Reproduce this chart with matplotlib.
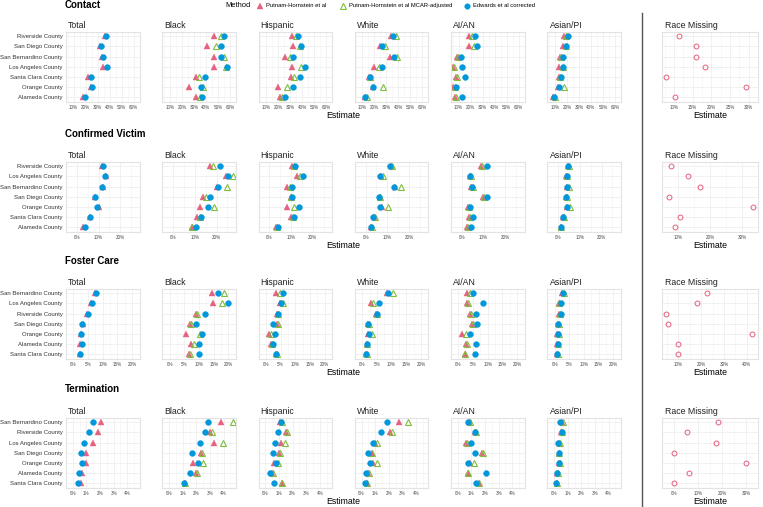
import matplotlib
matplotlib.use("Agg")
import matplotlib.pyplot as plt
from matplotlib.lines import Line2D
import numpy as np

plt.rcParams['font.family'] = ['Liberation Sans', 'DejaVu Sans']

# ---------------- data (percent) ----------------
races = ['Total', 'Black', 'Hispanic', 'White', 'AI/AN', 'Asian/PI']

contact_counties = ['Riverside County', 'San Diego County', 'San Bernardino County', 'Los Angeles County',
                    'Santa Clara County', 'Orange County', 'Alameda County']
contact_ph = {
    'Total': [35.8, 32.0, 33.3, 34.8, 22.2, 24.9, 17.8],
    'Black': [46.6, 40.9, 46.4, 46.4, 31.7, 26.2, 31.7],
    'Hispanic': [31.5, 32.3, 25.7, 32.0, 30.7, 19.7, 21.8],
    'White': [33.6, 24.4, 33.0, 19.9, 15.2, 19.0, 11.8],
    'AI/AN': [18.6, 18.9, 8.4, 5.3, 7.9, 5.3, 6.9],
    'Asian/PI': [17.8, 16.3, 13.9, 13.6, 13.6, 12.5, 8.7],
}
contact_mcar = {
    'Black': [52.4, 48.5, 55.3, 56.6, 34.1, 37.5, 34.9],
    'Hispanic': [34.6, 38.3, 30.2, 39.1, 33.6, 27.5, 23.6],
    'White': [38.3, 29.1, 39.1, 23.9, 16.0, 26.8, 13.4],
    'AI/AN': [21.0, 23.1, 9.5, 6.3, 9.0, 6.6, 7.9],
    'Asian/PI': [19.1, 19.6, 15.2, 17.0, 14.4, 17.6, 9.7],
}
contact_edw = {
    'Total': [36.8, 33.0, 34.8, 38.1, 24.9, 25.4, 19.4],
    'Black': [55.3, 52.7, 52.9, 57.9, 39.3, 36.2, 36.4],
    'Hispanic': [36.7, 38.8, 32.8, 42.7, 38.3, 32.8, 25.4],
    'White': [35.9, 26.2, 36.7, 26.0, 16.3, 19.2, 12.1],
    'AI/AN': [23.6, 25.7, 12.1, 12.9, 15.0, 7.4, 12.6],
    'Asian/PI': [20.7, 19.1, 16.5, 16.5, 14.7, 13.1, 9.2],
}
contact_missing = [11.4, 15.8, 16.0, 18.4, 7.8, 29.2, 10.2]

victim_counties = ['Riverside County', 'Los Angeles County', 'San Bernardino County', 'San Diego County',
                   'Orange County', 'Santa Clara County', 'Alameda County']
victim_ph = {
    'Total': [11.6, 13.4, 12.2, 8.4, 10.1, 5.9, 2.9],
    'Black': [17.1, 24.3, 20.3, 13.9, 12.6, 10.9, 8.6],
    'Hispanic': [10.5, 12.8, 8.0, 9.9, 8.0, 10.0, 3.3],
    'White': [11.6, 7.1, 13.7, 6.4, 7.4, 3.8, 2.6],
    'AI/AN': [8.9, 3.6, 4.4, 9.8, 2.7, 3.4, 2.4],
    'Asian/PI': [4.5, 3.6, 4.0, 3.7, 4.0, 2.1, 1.2],
}
victim_mcar = {
    'Black': [18.6, 27.8, 24.9, 15.0, 18.9, 12.2, 8.9],
    'Hispanic': [11.2, 14.3, 9.6, 10.1, 11.6, 10.8, 3.7],
    'White': [12.2, 7.9, 16.2, 6.7, 10.3, 4.2, 2.8],
    'AI/AN': [9.3, 4.0, 5.2, 10.2, 3.5, 3.8, 2.9],
    'Asian/PI': [4.8, 4.3, 4.8, 3.9, 5.6, 2.5, 1.4],
}
victim_edw = {
    'Total': [12.1, 13.0, 11.4, 8.4, 9.5, 5.9, 3.6],
    'Black': [21.7, 25.4, 20.5, 17.1, 15.9, 12.8, 10.4],
    'Hispanic': [12.0, 15.3, 10.3, 10.4, 13.9, 11.4, 4.2],
    'White': [11.4, 6.8, 13.0, 6.3, 6.7, 3.6, 2.4],
    'AI/AN': [11.5, 3.8, 4.7, 11.6, 3.8, 5.2, 4.2],
    'Asian/PI': [4.7, 3.9, 3.9, 3.8, 3.9, 2.2, 1.3],
}
victim_missing = [7.8, 13.1, 16.8, 7.3, 33.4, 10.5, 9.2]

foster_counties = ['San Bernardino County', 'Los Angeles County', 'Riverside County', 'San Diego County',
                   'Orange County', 'Alameda County', 'Santa Clara County']
foster_ph = {
    'Total': [7.4, 6.1, 4.8, 3.2, 2.5, 2.4, 2.1],
    'Black': [14.5, 14.7, 8.9, 6.8, 5.7, 7.4, 6.5],
    'Hispanic': [3.6, 4.7, 3.9, 3.9, 1.2, 1.9, 3.4],
    'White': [8.4, 3.0, 4.7, 2.0, 1.9, 1.5, 1.3],
    'AI/AN': [3.1, 2.9, 4.0, 4.7, 1.3, 2.5, 2.1],
    'Asian/PI': [2.6, 1.4, 1.4, 1.2, 0.9, 0.9, 0.8],
}
foster_mcar = {
    'Black': [18.5, 17.8, 9.2, 7.1, 10.3, 8.2, 7.0],
    'Hispanic': [4.7, 5.8, 4.2, 4.1, 1.9, 2.1, 3.8],
    'White': [10.6, 3.8, 4.9, 2.2, 3.4, 1.8, 1.6],
    'AI/AN': [4.0, 3.3, 4.3, 5.0, 2.5, 2.8, 2.4],
    'Asian/PI': [3.3, 1.6, 1.7, 1.4, 1.5, 1.1, 1.0],
}
foster_edw = {
    'Total': [7.6, 6.4, 4.9, 2.8, 2.6, 2.8, 2.2],
    'Black': [16.6, 20.0, 12.1, 8.8, 11.0, 10.0, 10.0],
    'Hispanic': [6.0, 5.3, 4.1, 2.5, 3.2, 2.3, 3.3],
    'White': [8.7, 5.6, 5.1, 2.1, 2.4, 1.6, 1.4],
    'AI/AN': [5.0, 8.5, 6.0, 6.4, 3.9, 6.0, 5.5],
    'Asian/PI': [3.0, 2.0, 2.3, 1.3, 1.0, 1.0, 0.9],
}
foster_missing = [22.4, 18.2, 4.6, 5.3, 42.5, 10.0, 9.7]

term_counties = ['San Bernardino County', 'Riverside County', 'Los Angeles County', 'San Diego County',
                 'Orange County', 'Alameda County', 'Santa Clara County']
term_ph = {
    'Total': [2.07, 1.84, 1.48, 0.99, 0.94, 0.65, 0.63],
    'Black': [3.82, 2.99, 3.28, 2.34, 1.79, 1.96, 1.14],
    'Hispanic': [1.06, 1.51, 1.17, 1.04, 0.65, 0.52, 1.22],
    'White': [2.76, 2.11, 0.99, 0.76, 0.85, 0.49, 0.40],
    'AI/AN': [0.83, 1.24, 0.61, 1.80, 0.90, 0.72, 1.53],
    'Asian/PI': [0.58, 0.53, 0.36, 0.33, 0.38, 0.22, 0.20],
}
term_mcar = {
    'Black': [4.67, 3.17, 3.97, 2.39, 2.52, 2.05, 1.18],
    'Hispanic': [1.24, 1.60, 1.44, 1.08, 0.93, 0.55, 1.26],
    'White': [3.42, 2.25, 1.12, 0.80, 1.12, 0.51, 0.43],
    'AI/AN': [0.90, 1.30, 0.67, 1.84, 1.17, 0.76, 1.57],
    'Asian/PI': [0.65, 0.56, 0.40, 0.38, 0.45, 0.25, 0.22],
}
term_edw = {
    'Total': [1.46, 1.21, 0.83, 0.63, 0.67, 0.45, 0.38],
    'Black': [2.83, 2.61, 2.28, 1.67, 2.12, 1.50, 1.09],
    'Hispanic': [1.17, 0.90, 0.70, 0.56, 0.77, 0.32, 0.61],
    'White': [1.87, 1.46, 0.83, 0.49, 0.58, 0.31, 0.27],
    'AI/AN': [0.76, 1.28, 0.94, 1.26, 0.76, 2.09, 1.37],
    'Asian/PI': [0.42, 0.58, 0.29, 0.36, 0.33, 0.20, 0.16],
}
term_missing = [18.2, 5.6, 17.5, 0.0, 30.1, 6.2, 0.1]

# ---------------- layout ----------------
W, H = 763, 507
PINK = '#E5617F'
GREEN = '#7DBE3C'
BLUE = '#0098DB'

rows = [
    dict(title='Contact', counties=contact_counties, ph=contact_ph, mcar=contact_mcar, edw=contact_edw,
         miss=contact_missing, ticks=[10, 20, 30, 40, 50, 60], xlim=(3.6, 61.4),
         mticks=[10, 15, 20, 25, 30], mxlim=(6.8, 30.2), top=32, title_y=5),
    dict(title='Confirmed Victim', counties=victim_counties, ph=victim_ph, mcar=victim_mcar, edw=victim_edw,
         miss=victim_missing, ticks=[0, 10, 20], xlim=(-0.5, 28.9),
         mticks=[10, 20, 30], mxlim=(6.0, 34.7), top=162, title_y=134),
    dict(title='Foster Care', counties=foster_counties, ph=foster_ph, mcar=foster_mcar, edw=foster_edw,
         miss=foster_missing, ticks=[0, 5, 10, 15, 20], xlim=(-0.1, 21.0),
         mticks=[10, 20, 30, 40], mxlim=(2.8, 44.3), top=289, title_y=261),
    dict(title='Termination', counties=term_counties, ph=term_ph, mcar=term_mcar, edw=term_edw,
         miss=term_missing, ticks=[0, 1, 2, 3, 4], xlim=(-0.05, 4.9),
         mticks=[0, 10, 20, 30], mxlim=(-1.5, 31.6), top=418, title_y=389),
]

panel_lefts = [66, 162.3, 258.5, 354.8, 451, 547.3]
panel_w = 73.5
miss_left, miss_w = 662, 96
panel_h = 69.5


def px_axes(fig, left, top, w, h):
    return fig.add_axes([left / W, 1 - (top + h) / H, w / W, h / H])


def style_axes(ax, ticks, xlim, n, labels=None):
    ax.set_xlim(*xlim)
    ax.set_ylim(n + 0.4, 0.6)
    ax.set_xticks(ticks)
    step = ticks[1] - ticks[0]
    minor = [t + step / 2 for t in [ticks[0] - step] + ticks]
    ax.set_xticks(minor, minor=True)
    ax.set_xticklabels([f'{t:g}%' for t in ticks])
    ax.set_yticks(range(1, n + 1))
    ax.set_yticks([], minor=True)
    ax.set_yticklabels(labels if labels is not None else [])
    ax.grid(True, which='major', color='#EBEBEB', lw=0.5)
    ax.grid(True, which='minor', axis='x', color='#F4F4F4', lw=0.4)
    ax.set_axisbelow(True)
    for s in ax.spines.values():
        s.set_color('#E3E3E3')
        s.set_linewidth(0.8)
    ax.tick_params(axis='both', which='both', length=0)
    ax.tick_params(axis='x', labelsize=3.3, labelcolor='#4D4D4D', pad=2.5)
    ax.tick_params(axis='y', labelsize=4.3, labelcolor='#333333', pad=2.5)


fig = plt.figure(figsize=(W / 100, H / 100), dpi=100)

for row in rows:
    n = len(row['counties'])
    y = np.arange(1, n + 1)
    top = row['top']
    fig.text(65 / W, 1 - row['title_y'] / H, row['title'], fontsize=7, fontweight='bold',
             ha='left', va='center', color='black')
    for i, race in enumerate(races):
        ax = px_axes(fig, panel_lefts[i], top, panel_w, panel_h)
        style_axes(ax, row['ticks'], row['xlim'], n, row['counties'] if i == 0 else None)
        ax.plot(row['ph'][race], y, ls='none', marker='^', ms=4.2, color=PINK, mec=PINK, mew=0.3)
        if race in row['mcar']:
            ax.plot(row['mcar'][race], y, ls='none', marker='^', ms=4.0, mfc='none', mec=GREEN, mew=0.8)
        ax.plot(row['edw'][race], y, ls='none', marker='o', ms=4.2, color=BLUE, mec=BLUE, mew=0.3)
        ax.set_title(race, fontsize=6.3, loc='left', pad=3, color='#222222', x=0.03)
    fig.text((panel_lefts[0] + panel_lefts[-1] + panel_w) / 2 / W, 1 - (top + panel_h + 14) / H,
             'Estimate', fontsize=6.3, ha='center', va='center', color='black')

    ax = px_axes(fig, miss_left, top, miss_w, panel_h)
    style_axes(ax, row['mticks'], row['mxlim'], n)
    ax.plot(row['miss'], y, ls='none', marker='o', ms=3.5, mfc='none', mec=PINK, mew=0.7)
    ax.set_title('Race Missing', fontsize=6.3, loc='left', pad=3, color='#222222', x=0.03)
    fig.text((miss_left + miss_w / 2) / W, 1 - (top + panel_h + 14) / H,
             'Estimate', fontsize=6.3, ha='center', va='center', color='black')

# divider
fig.add_artist(Line2D([642 / W, 642 / W], [1 - 13 / H, 0], color='#555555', lw=1.0,
                      transform=fig.transFigure))

# legend
ly = 1 - 5.5 / H
fig.text(225 / W, ly, 'Method', fontsize=5.4, ha='left', va='center')
legend_items = [
    (260, '^', PINK, PINK, 'Putnam-Hornstein et al'),
    (343, '^', 'none', GREEN, 'Putnam-Hornstein et al MCAR-adjusted'),
    (467, 'o', BLUE, BLUE, 'Edwards et al corrected'),
]
for lx, mk, fc, ec, lab in legend_items:
    fig.add_artist(Line2D([lx / W], [ly], marker=mk, ls='none', ms=4.0, mfc=fc, mec=ec,
                          mew=0.8 if fc == 'none' else 0.3, transform=fig.transFigure))
    fig.text((lx + 6) / W, ly, lab, fontsize=4.2, ha='left', va='center')

fig.savefig('out.png', dpi=100)
